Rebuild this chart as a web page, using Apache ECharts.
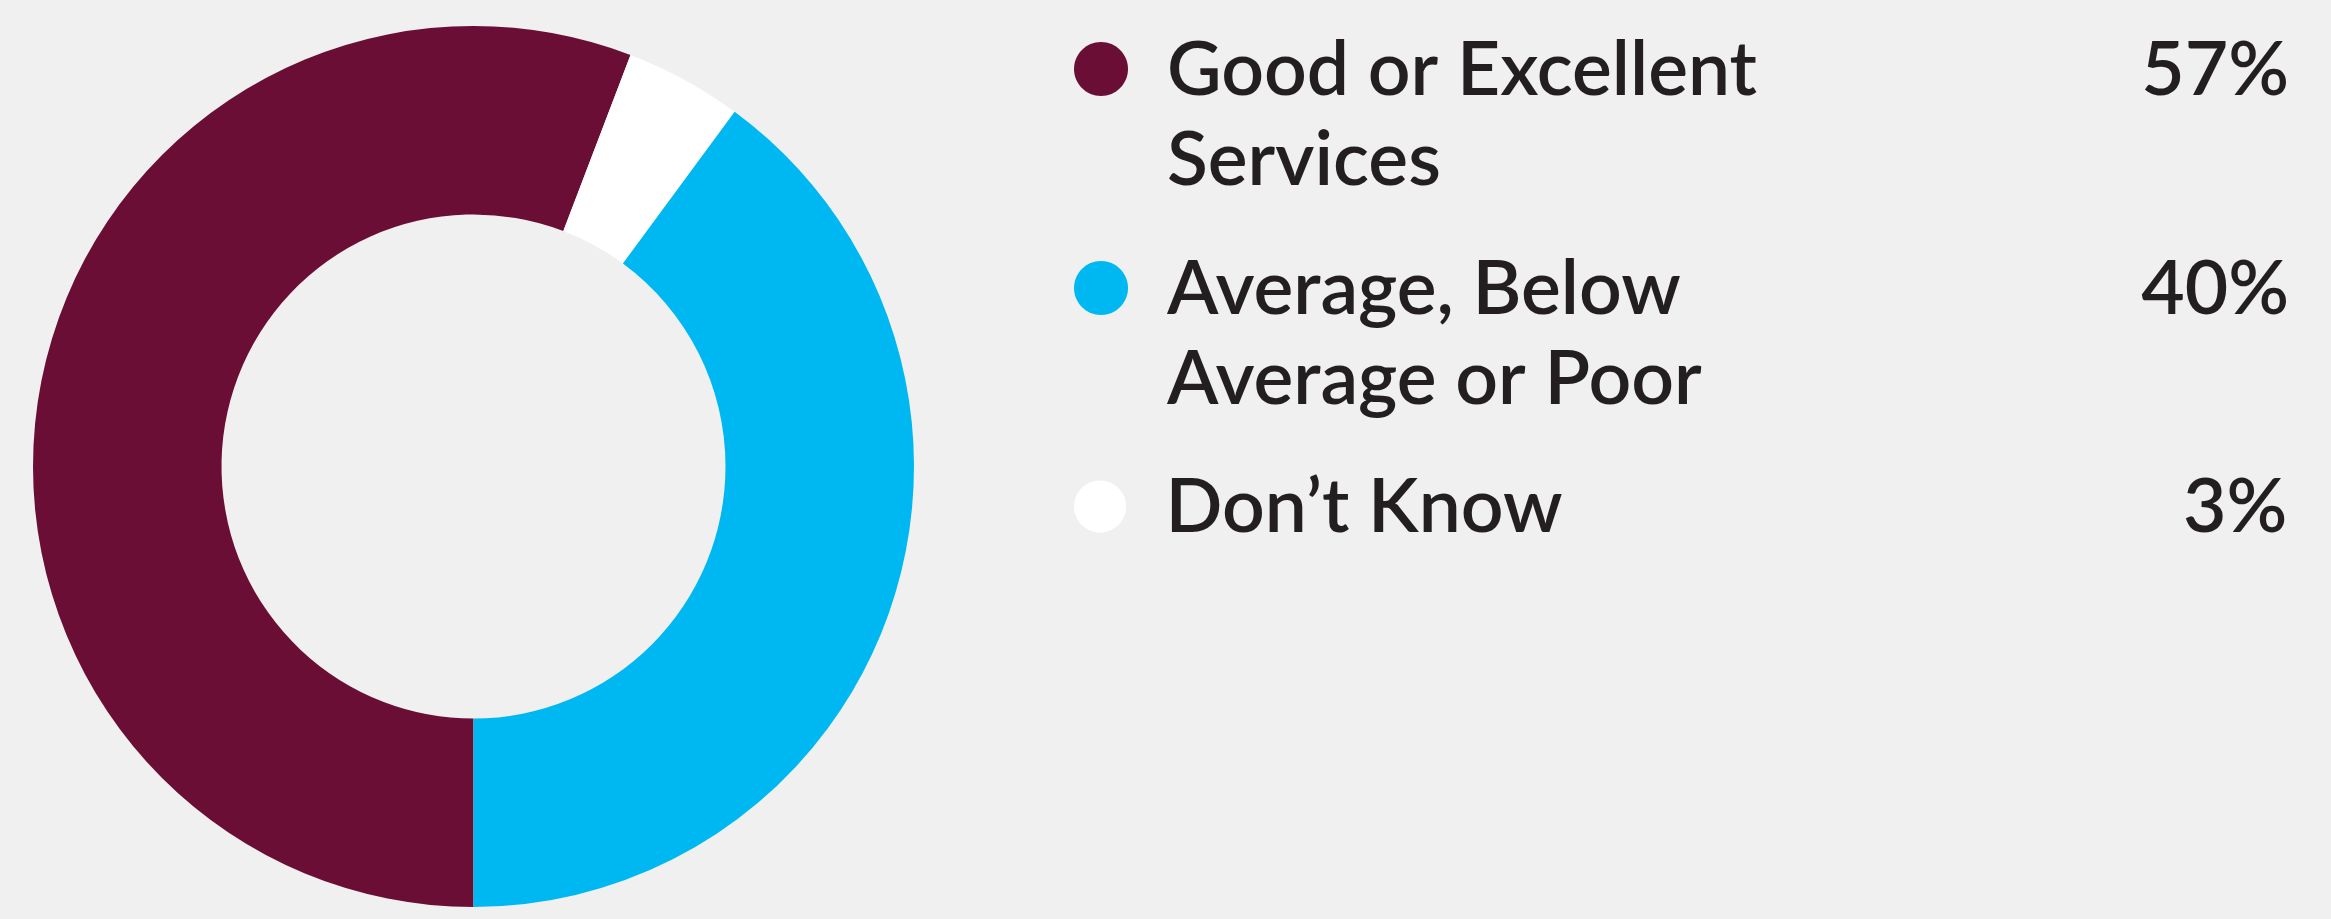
<!DOCTYPE html>
<html>
<head>
<meta charset="utf-8">
<script src="https://cdn.jsdelivr.net/npm/echarts@6/dist/echarts.min.js"></script>
<style>
  html, body { margin: 0; padding: 0; background: #f0f0f0; }
  #chart { width: 2331px; height: 919px; }
</style>
</head>
<body>
<div id="chart"></div>
<script>
// ---- data ----
var categories = ['Good or Excellent Services', 'Average, Below Average or Poor', 'Don\u2019t Know'];
var categoryLines = [['Good or Excellent', 'Services'], ['Average, Below', 'Average or Poor'], ['Don\u2019t Know']];
var shareLabels = ['57%', '40%', '3%'];
var sliceShares = [55.8, 39.9, 4.3];
var sliceColors = ['#6a0e36', '#00b8f1', '#ffffff'];
// ring order (clockwise from 6 o'clock): Good, Don't Know, Average
var ringOrder = [0, 2, 1];

var FONT = 'Lato, "Liberation Sans", sans-serif';
var TEXT = '#231f20';

var chart = echarts.init(document.getElementById('chart'), null, { renderer: 'canvas' });

var pieData = ringOrder.map(function (i) {
  return { name: categories[i], value: sliceShares[i], itemStyle: { color: sliceColors[i] } };
});

// legend icon: round dot aligned with the first text line; invisible points extend the box
var iconTwoLine = 'path://M27,16 C41.912,16 54,28.088 54,43 C54,57.912 41.912,70 27,70 C12.088,70 0,57.912 0,43 C0,28.088 12.088,16 27,16 Z M0,0 L0,0 M88,180 L88,180';
var iconOneLine = 'path://M27,-2 C41.912,-2 54,10.088 54,25 C54,39.912 41.912,52 27,52 C12.088,52 0,39.912 0,25 C0,10.088 12.088,-2 27,-2 Z M0,0 L0,0 M88,54 L88,54';

var rich = {
  n: { width: 922, fontSize: 75, fontWeight: 600, lineHeight: 90, fontFamily: FONT, color: TEXT },
  p: { width: 200, align: 'right', fontSize: 75, fontWeight: 600, lineHeight: 90, fontFamily: FONT, color: TEXT }
};

function makeLegend(i, top) {
  var two = categoryLines[i].length > 1;
  var icon = two ? iconTwoLine : iconOneLine;
  return {
    orient: 'vertical',
    left: 1074,
    top: top,
    padding: 0,
    itemGap: 0,
    itemWidth: 88,
    itemHeight: two ? 180 : 54,
    selectedMode: false,
    icon: icon,
    itemStyle: { borderWidth: 0 },
    data: [{ name: categories[i], icon: icon }],
    textStyle: { color: TEXT, fontFamily: FONT, fontSize: 75, fontWeight: 600, rich: rich },
    formatter: function () {
      var lines = categoryLines[i];
      var s = '{n|' + lines[0] + '}{p|' + shareLabels[i] + '}';
      for (var k = 1; k < lines.length; k++) s += '\n{n|' + lines[k] + '}';
      return s;
    }
  };
}

chart.setOption({
  backgroundColor: '#f0f0f0',
  animation: false,
  legend: [makeLegend(0, 26), makeLegend(1, 245), makeLegend(2, 470)],
  series: [{
    type: 'pie',
    center: [473.5, 466.5],
    radius: [252, 440.5],
    startAngle: -90,
    clockwise: true,
    avoidLabelOverlap: false,
    label: { show: false },
    labelLine: { show: false },
    emphasis: { disabled: true },
    itemStyle: { borderWidth: 0 },
    data: pieData
  }]
});
</script>
</body>
</html>
